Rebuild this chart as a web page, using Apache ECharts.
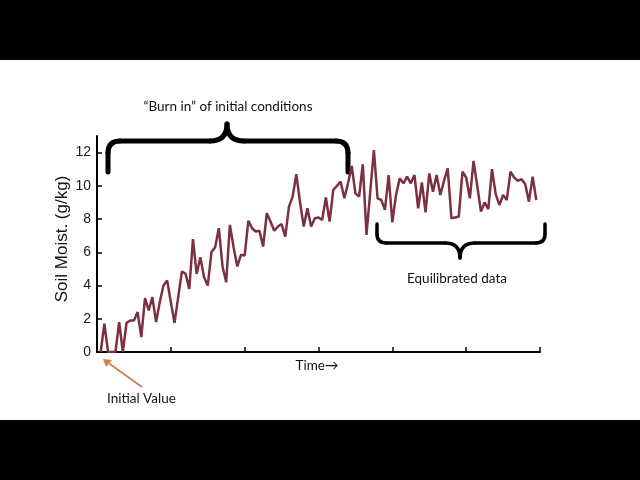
<!DOCTYPE html>
<html>
<head>
<meta charset="utf-8">
<script src="https://cdn.jsdelivr.net/npm/echarts@6/dist/echarts.min.js"></script>
<style>
  html, body { margin: 0; padding: 0; background: #000; }
  #chart {
    width: 640px;
    height: 480px;
    background: linear-gradient(#000 0 60px, #fff 60px 420px, #000 420px);
  }
</style>
</head>
<body>
<div id="chart"></div>
<script>
// soil moisture (g/kg) per time step
const moisture = [
  0, 1.7, 0, 0, 0, 1.8, 0, 1.75, 1.9, 1.9, 2.4, 0.9, 3.25, 2.5, 3.3, 1.8, 3.0, 4.0, 4.3, 3.0, 1.75,
  3.3, 4.85, 4.7, 3.8, 6.8, 4.7, 5.7, 4.5, 4.0, 6.0, 6.3, 7.45, 5.15, 4.2, 7.65, 6.3, 5.15, 5.85, 5.8,
  7.9, 7.45, 7.25, 7.3, 6.35, 8.35, 7.85, 7.3, 7.55, 7.7, 6.95, 8.75, 9.35, 10.7, 9.0, 7.55, 8.65,
  7.55, 8.05, 8.1, 7.95, 9.3, 7.85, 9.75, 10.0, 10.25, 9.25, 10.15, 11.2, 9.55, 9.35, 11.3, 7.05,
  9.6, 12.15, 9.25, 9.15, 8.55, 10.65, 7.8, 9.45, 10.45, 10.15, 10.55, 10.15, 10.65, 8.65, 10.2,
  8.4, 10.75, 9.65, 10.65, 9.45, 10.3, 11.05, 8.05, 8.1, 8.15, 10.85, 10.5, 9.25, 11.5, 10.0, 8.45,
  9.0, 8.6, 11.0, 9.5, 8.85, 9.45, 9.15, 10.85, 10.5, 10.3, 10.4, 10.1, 9.05, 10.55, 9.15
]
const yTicks = [0, 2, 4, 6, 8, 10, 12]
const xTicks = [0, 20, 40, 60, 80, 100, 120]

const chart = echarts.init(document.getElementById('chart'))

const noteFont = 'Lato, "DejaVu Sans", sans-serif'

// curly brace made of straight pieces and quadratic corners
// (x1,x2 ends, yEnd = tip of the arms, yMid = long bar, yTip = point, xTip = point x)
function brace(x1, x2, yEnd, yMid, yTip, xTip, r, width) {
  const arm = yEnd < yMid ? -1 : 1   // arms go up or down from the bar
  const st = { stroke: '#000', lineWidth: width, lineCap: 'round', fill: null }
  const tipR = Math.abs(yTip - yMid)
  return [
    { type: 'line', shape: { x1: x1, y1: yEnd, x2: x1, y2: yMid + arm * r }, style: st },
    { type: 'bezierCurve', shape: { x1: x1, y1: yMid + arm * r, cpx1: x1, cpy1: yMid, x2: x1 + r, y2: yMid }, style: st },
    { type: 'line', shape: { x1: x1 + r, y1: yMid, x2: xTip - tipR, y2: yMid }, style: st },
    { type: 'bezierCurve', shape: { x1: xTip - tipR, y1: yMid, cpx1: xTip, cpy1: yMid, x2: xTip, y2: yTip }, style: st },
    { type: 'bezierCurve', shape: { x1: xTip, y1: yTip, cpx1: xTip, cpy1: yMid, x2: xTip + tipR, y2: yMid }, style: st },
    { type: 'line', shape: { x1: xTip + tipR, y1: yMid, x2: x2 - r, y2: yMid }, style: st },
    { type: 'bezierCurve', shape: { x1: x2 - r, y1: yMid, cpx1: x2, cpy1: yMid, x2: x2, y2: yMid + arm * r }, style: st },
    { type: 'line', shape: { x1: x2, y1: yMid + arm * r, x2: x2, y2: yEnd }, style: st }
  ]
}

const option = {
  backgroundColor: 'transparent',
  animation: false,
  grid: {
    left: 97,
    right: 100,
    top: 136,
    bottom: 128
  },
  xAxis: {
    type: 'value',
    min: 0,
    max: 120,
    interval: 20,
    axisLine: { lineStyle: { color: '#000', width: 2 } },
    axisTick: {
      inside: true,
      length: 5,
      customValues: xTicks,
      lineStyle: { color: '#000', width: 1.5 }
    },
    axisLabel: { show: false },
    splitLine: { show: false }
  },
  yAxis: {
    type: 'value',
    min: 0,
    max: 13,
    name: 'Soil Moist. (g/kg)',
    nameLocation: 'middle',
    nameGap: 26,
    nameMoveOverlap: false,
    nameTextStyle: {
      fontFamily: '"Liberation Sans", Arial, sans-serif',
      fontSize: 17,
      color: '#111',
      padding: [0, 0, 0, 10]
    },
    axisLine: { show: true, lineStyle: { color: '#000', width: 2 } },
    axisTick: {
      show: true,
      inside: true,
      length: 5,
      customValues: yTicks,
      lineStyle: { color: '#000', width: 1.5 }
    },
    axisLabel: {
      customValues: yTicks,
      margin: 6,
      fontFamily: '"Liberation Sans", Arial, sans-serif',
      fontSize: 14,
      color: '#1a1a1a'
    },
    splitLine: { show: false }
  },
  series: [
    {
      type: 'line',
      data: moisture.map((v, i) => [i + 1, v]),
      showSymbol: false,
      lineStyle: { color: '#7b3141', width: 2.5 },
      itemStyle: { color: '#7b3141' }
    }
  ],
  graphic: [
    ...brace(108, 348, 172, 141, 124, 227, 12, 5),
    ...brace(377, 545, 224, 243, 258, 460, 9, 3.5),
    {
      type: 'text',
      x: 228,
      y: 107,
      style: {
        text: '\u201cBurn in\u201d of initial conditions',
        font: '13.5px ' + noteFont,
        fill: '#111',
        align: 'center',
        verticalAlign: 'middle'
      }
    },
    {
      type: 'text',
      x: 457,
      y: 279,
      style: {
        text: 'Equilibrated data',
        font: '13.5px ' + noteFont,
        fill: '#111',
        align: 'center',
        verticalAlign: 'middle'
      }
    },
    {
      type: 'text',
      x: 317,
      y: 366,
      style: {
        text: 'Time\u2192',
        font: '13.5px ' + noteFont,
        fill: '#111',
        align: 'center',
        verticalAlign: 'middle'
      }
    },
    {
      type: 'text',
      x: 107,
      y: 399,
      style: {
        text: 'Initial Value',
        font: '13.5px ' + noteFont,
        fill: '#111',
        align: 'left',
        verticalAlign: 'middle'
      }
    },
    {
      type: 'line',
      shape: { x1: 142, y1: 387, x2: 107, y2: 362 },
      style: { stroke: '#d4814c', lineWidth: 2 }
    },
    {
      type: 'polygon',
      shape: { points: [[103, 359], [112, 360], [106, 367]] },
      style: { fill: '#d4814c' }
    }
  ]
}

chart.setOption(option)
</script>
</body>
</html>
